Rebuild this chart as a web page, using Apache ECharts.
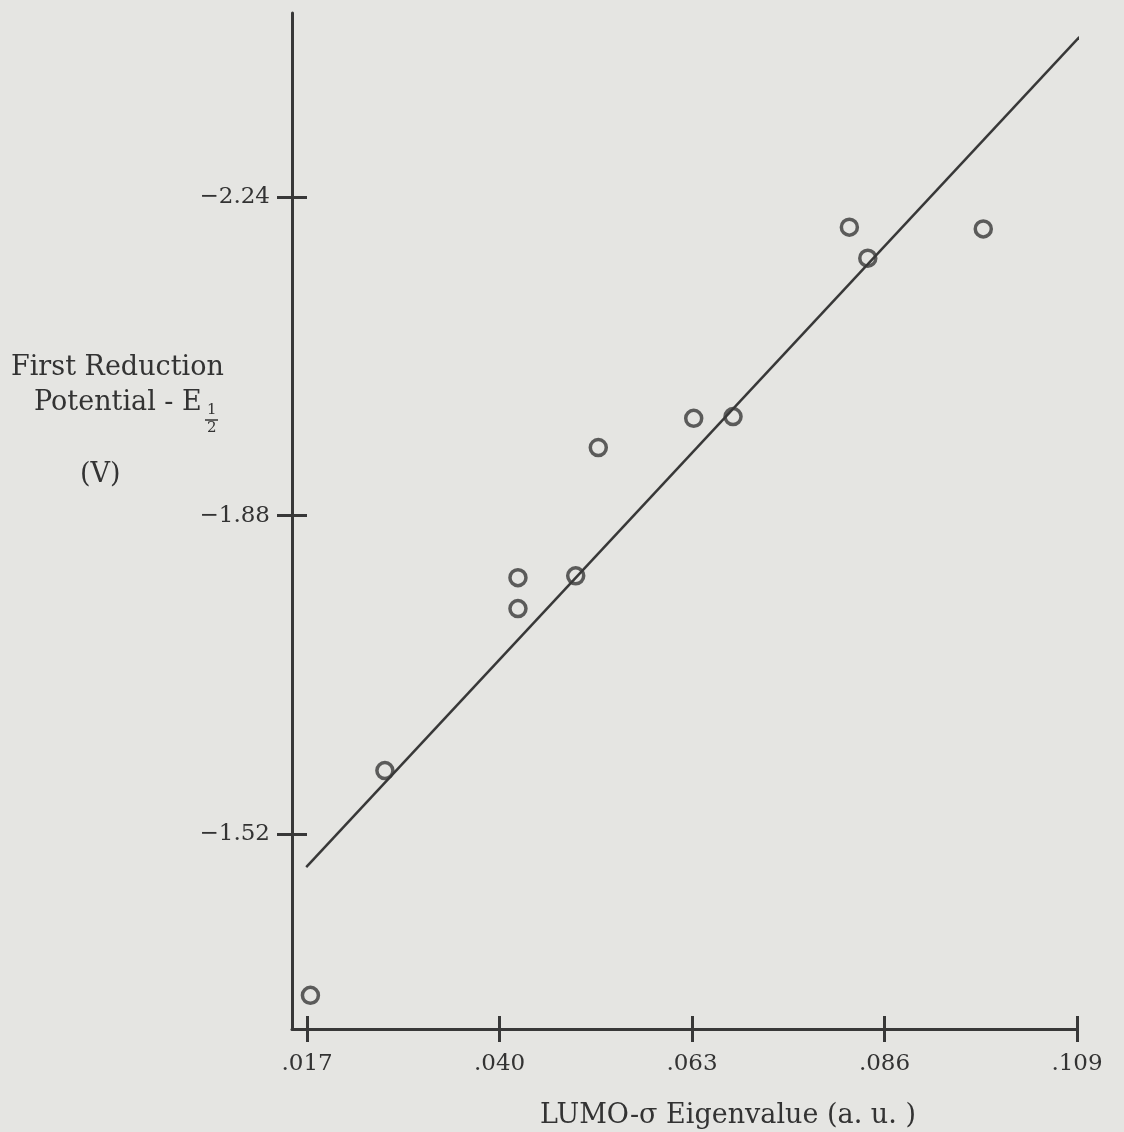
<!DOCTYPE html>
<html>
<head>
<meta charset="utf-8">
<script src="https://cdn.jsdelivr.net/npm/echarts@6/dist/echarts.min.js"></script>
<style>
  html, body { margin: 0; padding: 0; background: #e5e5e2; }
  #chart { width: 1124px; height: 1132px; }
</style>
</head>
<body>
<div id="chart"></div>
<script>
// LUMO eigenvalue vs first reduction potential
var lumo = [0.0174, 0.0263, 0.0422, 0.0422, 0.0491, 0.0518, 0.0632, 0.0679, 0.0818, 0.0840, 0.0978, 0.1092];
var potential = [-1.338, -1.592, -1.810, -1.775, -1.812, -1.957, -1.990, -1.992, -2.206, -2.171, -2.204, -2.420];
var fitX = [0.0169, 0.1093];
var fitY = [-1.483, -2.421];
var xTicks = [0.017, 0.040, 0.063, 0.086, 0.109];
var yTicks = [-2.24, -1.88, -1.52];

var ink = '#383838';
var serif = 'DejaVu Serif';
var nameFont = '27px "DejaVu Serif"';

var points = lumo.map(function (v, i) { return [v, potential[i]]; });
var fit = fitX.map(function (v, i) { return [v, fitY[i]]; });

// two axes on each side: one with ticks out, one with ticks in -> crossing ticks
function xAx(inside, show) {
    return {
        type: 'value', min: 0.0152, max: 0.109, position: 'bottom',
        axisLine: { show: show, onZero: false, lineStyle: { color: ink, width: 3 } },
        axisTick: { show: true, inside: inside, length: 13, customValues: xTicks, lineStyle: { color: ink, width: 3 } },
        axisLabel: {
            show: show, customValues: xTicks, margin: 24,
            color: '#333', fontFamily: serif, fontSize: 23,
            formatter: function (v) { return v.toFixed(3).replace(/^0/, ''); }
        },
        splitLine: { show: false }
    };
}
function yAx(inside, show) {
    return {
        type: 'value', min: -2.448, max: -1.30, inverse: true, position: 'left',
        axisLine: { show: show, onZero: false, lineStyle: { color: ink, width: 3 } },
        axisTick: { show: true, inside: inside, length: 15, customValues: yTicks, lineStyle: { color: ink, width: 3 } },
        axisLabel: {
            show: show, customValues: yTicks, margin: 22,
            color: '#333', fontFamily: serif, fontSize: 23,
            formatter: function (v) { return '\u2212' + Math.abs(v).toFixed(2); }
        },
        splitLine: { show: false }
    };
}

var chart = echarts.init(document.getElementById('chart'));
var option = {
    backgroundColor: '#e5e5e2',
    animation: false,
    grid: { left: 292, top: 13, right: 47, bottom: 103 },
    xAxis: [xAx(false, true), xAx(true, false)],
    yAxis: [yAx(false, true), yAx(true, false)],
    graphic: [
        { type: 'text', left: 11, top: 354, style: { text: 'First Reduction', font: nameFont, fill: '#333' } },
        { type: 'text', left: 34, top: 389, style: { text: 'Potential - E', font: nameFont, fill: '#333' } },
        { type: 'text', left: 207, top: 403, style: { text: '1', font: '15px "DejaVu Serif"', fill: '#333' } },
        { type: 'line', shape: { x1: 205, y1: 420, x2: 218, y2: 420 }, style: { stroke: '#333', lineWidth: 1.5 } },
        { type: 'text', left: 207, top: 421, style: { text: '2', font: '15px "DejaVu Serif"', fill: '#333' } },
        { type: 'text', left: 80, top: 461, style: { text: '(V)', font: nameFont, fill: '#333' } },
        { type: 'text', left: 540, top: 1102, style: { text: 'LUMO-\u03c3 Eigenvalue (a. u. )', font: nameFont, fill: '#333' } }
    ],
    series: [
        {
            type: 'line', data: fit, showSymbol: false, silent: true,
            lineStyle: { color: ink, width: 2.5 }
        },
        {
            type: 'scatter', data: points, symbol: 'circle', symbolSize: 16,
            itemStyle: { color: 'transparent', borderColor: ink, borderWidth: 3.5 }
        }
    ]
};
chart.setOption(option);
</script>
</body>
</html>
